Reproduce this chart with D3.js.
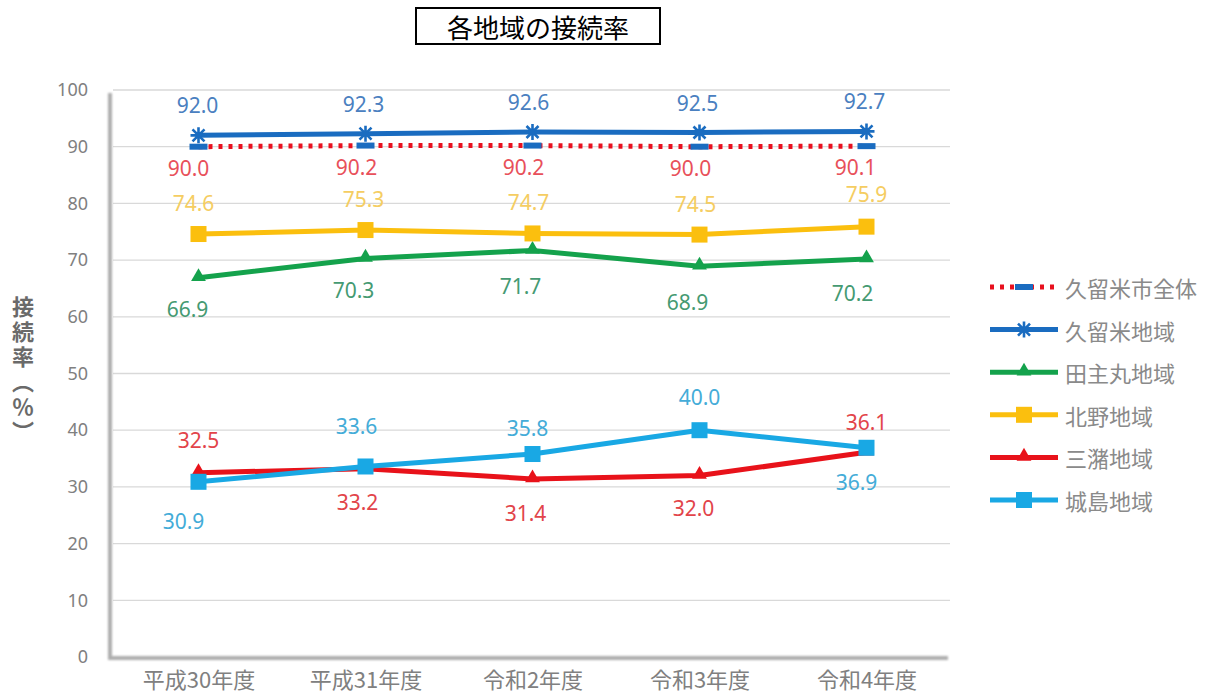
<!DOCTYPE html>
<html>
<head>
<meta charset="utf-8">
<script src="https://cdn.jsdelivr.net/npm/d3@7"></script>
<style>
  body { margin: 0; background: #fff; }
  svg { display: block; font-family: "Noto Sans CJK JP", "Noto Sans", sans-serif; }
</style>
</head>
<body>
<svg id="chart" width="1211" height="700"></svg>
<script>
// データ
const years = ["平成30年度", "平成31年度", "令和2年度", "令和3年度", "令和4年度"];
const seriesNames = ["久留米市全体", "久留米地域", "田主丸地域", "北野地域", "三潴地域", "城島地域"];
const cityAll = [90.0, 90.2, 90.2, 90.0, 90.1];
const kurume = [92.0, 92.3, 92.6, 92.5, 92.7];
const tanushimaru = [66.9, 70.3, 71.7, 68.9, 70.2];
const kitano = [74.6, 75.3, 74.7, 74.5, 75.9];
const mizuma = [32.5, 33.2, 31.4, 32.0, 36.1];
const jojima = [30.9, 33.6, 35.8, 40.0, 36.9];
const yTicks = [0, 10, 20, 30, 40, 50, 60, 70, 80, 90, 100];

// 見た目の設定 (ラベルのずれはpx)
const styles = [
  {values: cityAll, line: "#e8101e", label: "#e8505a", marker: "dash", mcolor: "#1a6cc0", dotted: true,
   dy: [21, 21, 21, 21, 21], dx: [-10, -9, -9, -9, -11]},
  {values: kurume, line: "#1a6cc0", label: "#4a80c0", marker: "star", mcolor: "#1a6cc0",
   dy: [-30, -30, -30, -30, -30], dx: [-1, -2, -4, -2, -2]},
  {values: tanushimaru, line: "#14a24c", label: "#459a72", marker: "tri", mcolor: "#14a24c",
   dy: [31, 32, 36, 36, 34], dx: [-11, -12, -12, -12, -14]},
  {values: kitano, line: "#fbbf0e", label: "#f5cd62", marker: "sq", mcolor: "#fbbf0e",
   dy: [-31, -31, -31, -31, -33], dx: [-5, -2, -4, -4, 0]},
  {values: mizuma, line: "#e8121a", label: "#e2444a", marker: "tri", mcolor: "#e8121a",
   dy: [-33, 33, 34, 32, -30], dx: [0, -8, -7, -6, 0]},
  {values: jojima, line: "#19a8e4", label: "#44acd8", marker: "sq", mcolor: "#19a8e4",
   dy: [39, -40, -26, -33, 34], dx: [-15, -9, -5, 0, -10]}
];

const svg = d3.select("#chart");

const x = d3.scalePoint().domain(years).range([115, 950]).padding(0.5);
const y = d3.scaleLinear().domain([0, 100]).range([657, 90]);

// タイトル
svg.append("rect")
  .attr("x", 416).attr("y", 8).attr("width", 244).attr("height", 36)
  .attr("fill", "#fff").attr("stroke", "#000").attr("stroke-width", 2);
svg.append("text")
  .attr("x", 538).attr("y", 26)
  .attr("text-anchor", "middle").attr("dominant-baseline", "central")
  .attr("font-size", 26).attr("fill", "#000")
  .text("各地域の接続率");

// ぼかし
const defs = svg.append("defs");
defs.append("filter").attr("id", "soft")
  .append("feGaussianBlur").attr("stdDeviation", 0.9);

// グリッド
svg.append("g").selectAll("line")
  .data(yTicks.filter(d => d > 0))
  .enter().append("line")
  .attr("x1", 113).attr("x2", 950)
  .attr("y1", d => y(d)).attr("y2", d => y(d))
  .attr("stroke", "#d9d9d9").attr("stroke-width", 1.3);

// 枠 (左と下の影)
svg.append("path")
  .attr("d", `M110,93 L110,658 L948,658`)
  .attr("fill", "none").attr("stroke", "#adadad").attr("stroke-width", 4)
  .attr("filter", "url(#soft)");

// y軸
const yAxis = svg.append("g")
  .attr("transform", "translate(88,0)")
  .call(d3.axisLeft(y).tickValues(yTicks).tickSize(0).tickPadding(0));
yAxis.select(".domain").remove();
yAxis.selectAll("text")
  .attr("font-size", 18).attr("fill", "#808080")
  .attr("font-family", "'Noto Sans', 'Noto Sans CJK JP', sans-serif");

// x軸
const xAxis = svg.append("g")
  .attr("transform", "translate(0,676)")
  .call(d3.axisBottom(x).tickSize(0).tickPadding(0));
xAxis.select(".domain").remove();
xAxis.selectAll("text")
  .attr("dy", "0.55em")
  .attr("font-size", 22).attr("fill", "#808080")
  .attr("font-family", "'Noto Sans CJK JP', sans-serif");

// y軸タイトル (縦書き)
svg.append("text")
  .attr("x", 23).attr("y", 296)
  .style("writing-mode", "vertical-rl")
  .style("text-orientation", "upright")
  .style("letter-spacing", "3px")
  .attr("font-size", 22).attr("font-weight", "bold").attr("fill", "#6a6a6a")
  .text("接続率（％）");

// マーカー
function drawMarker(g, type, color, cx, cy) {
  if (type === "sq") {
    g.append("rect").attr("x", cx - 8).attr("y", cy - 8).attr("width", 16).attr("height", 16)
      .attr("fill", color);
  } else if (type === "tri") {
    g.append("path").attr("d", d3.symbol().type(d3.symbolTriangle).size(95)())
      .attr("transform", `translate(${cx},${cy - 1})`).attr("fill", color);
  } else if (type === "star") {
    g.append("path")
      .attr("d", `M${cx - 6},${cy - 6}L${cx + 6},${cy + 6}M${cx - 6},${cy + 6}L${cx + 6},${cy - 6}M${cx},${cy - 8}L${cx},${cy + 8}M${cx - 8},${cy}L${cx + 8},${cy}`)
      .attr("stroke", color).attr("stroke-width", 2.6).attr("fill", "none");
  } else if (type === "dash") {
    g.append("rect").attr("x", cx - 9).attr("y", cy - 3).attr("width", 18).attr("height", 6)
      .attr("fill", color);
  }
}

const line = d3.line().x((d, i) => x(years[i])).y(d => y(d));

styles.forEach(s => {
  const g = svg.append("g");
  g.append("path")
    .attr("d", line(s.values))
    .attr("fill", "none")
    .attr("stroke", s.line)
    .attr("stroke-width", 5)
    .attr("stroke-linejoin", "round")
    .attr("stroke-dasharray", s.dotted ? "4 6" : null);
  s.values.forEach((v, i) => drawMarker(g, s.marker, s.mcolor, x(years[i]), y(v)));
});

// データラベル
styles.forEach(s => {
  svg.append("g").selectAll("text")
    .data(s.values)
    .enter().append("text")
    .attr("x", (d, i) => x(years[i]) + s.dx[i])
    .attr("y", (d, i) => y(d) + s.dy[i])
    .attr("text-anchor", "middle").attr("dominant-baseline", "central")
    .attr("font-size", 21).attr("fill", s.label)
    .attr("font-family", "'Noto Sans', sans-serif")
    .text(d => d.toFixed(1));
});

// 凡例
const legend = svg.append("g");
styles.forEach((s, k) => {
  const ly = 287 + k * 42.6;
  legend.append("line")
    .attr("x1", 990).attr("x2", 1058).attr("y1", ly).attr("y2", ly)
    .attr("stroke", s.line).attr("stroke-width", 5)
    .attr("stroke-dasharray", s.dotted ? "4 6" : null);
  drawMarker(legend, s.marker, s.mcolor, 1024, ly);
  legend.append("text")
    .attr("x", 1065).attr("y", ly)
    .attr("dominant-baseline", "central")
    .attr("font-size", 22).attr("fill", "#8a8a8a")
    .text(seriesNames[k]);
});
</script>
</body>
</html>
